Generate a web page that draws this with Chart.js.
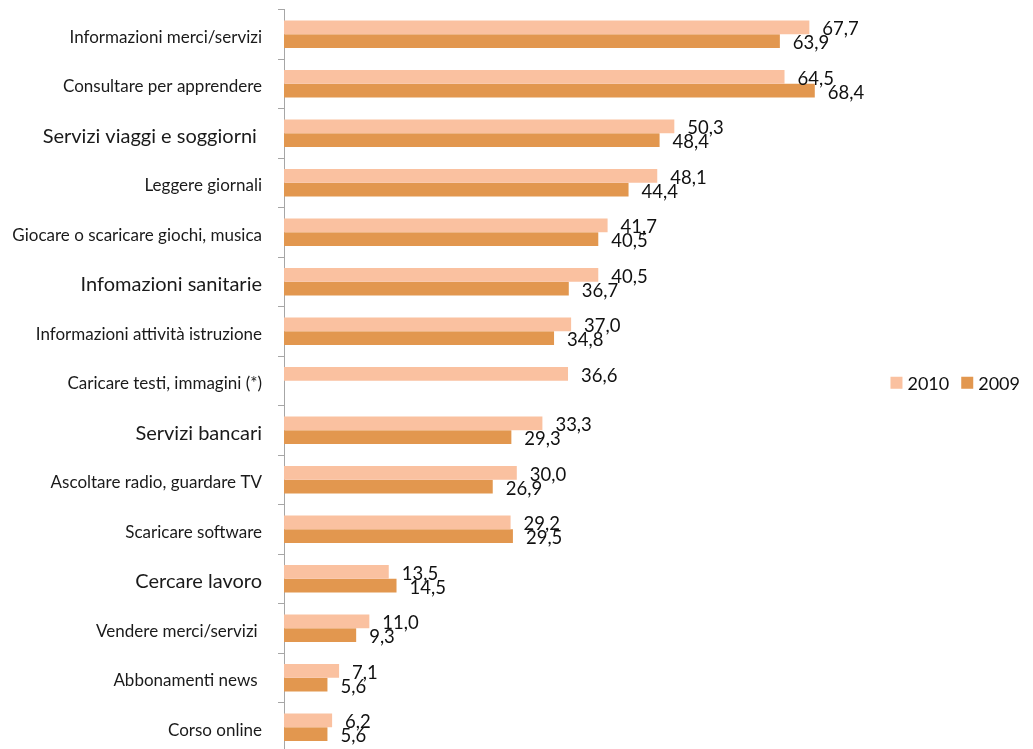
<!DOCTYPE html>
<html>
<head>
<meta charset="utf-8">
<script src="https://cdn.jsdelivr.net/npm/chart.js@4/dist/chart.umd.min.js"></script>
<style>
html,body{margin:0;padding:0;background:#fff;overflow:hidden;}
#wrap{width:1033px;height:760px;}
</style>
</head>
<body>
<div id="wrap"><canvas id="c" width="1033" height="760"></canvas></div>
<script>
const categories = [
  "Informazioni merci/servizi",
  "Consultare per apprendere",
  "Servizi viaggi e soggiorni ",
  "Leggere giornali",
  "Giocare o scaricare giochi, musica",
  "Infomazioni sanitarie",
  "Informazioni attività istruzione",
  "Caricare testi, immagini (*)",
  "Servizi bancari",
  "Ascoltare radio, guardare TV",
  "Scaricare software",
  "Cercare lavoro",
  "Vendere merci/servizi ",
  "Abbonamenti news ",
  "Corso online"
];
const values2010 = [67.7, 64.5, 50.3, 48.1, 41.7, 40.5, 37.0, 36.6, 33.3, 30.0, 29.2, 13.5, 11.0, 7.1, 6.2];
const values2009 = [63.9, 68.4, 48.4, 44.4, 40.5, 36.7, 34.8, null, 29.3, 26.9, 29.5, 14.5, 9.3, 5.6, 5.6];
const seriesNames = ["2010", "2009"];

// style config
const COLOR_2010 = "#FAC1A0";
const COLOR_2009 = "#E2974F";
const BIG_LABEL_INDEXES = [2, 5, 8, 11];
const FONT = "Lato, 'Open Sans', sans-serif";

const valueLabels = {
  id: "valueLabels",
  afterDatasetsDraw(chart) {
    const ctx = chart.ctx;
    ctx.save();
    ctx.font = "18.5px " + FONT;
    ctx.fillStyle = "#111";
    ctx.textAlign = "left";
    ctx.textBaseline = "middle";
    chart.data.datasets.forEach((ds, di) => {
      const meta = chart.getDatasetMeta(di);
      meta.data.forEach((el, i) => {
        const v = ds.data[i];
        if (v === null || v === undefined) return;
        ctx.fillText(v.toFixed(1).replace(".", ","), el.x + 13, el.y + 2);
      });
    });
    ctx.restore();
  }
};

const rowLegend = {
  id: "rowLegend",
  afterDraw(chart) {
    const ctx = chart.ctx;
    const ca = chart.chartArea;
    ctx.save();
    ctx.font = "18px " + FONT;
    ctx.textBaseline = "middle";
    ctx.textAlign = "left";
    const box = 12, gapBox = 5, gapItem = 12;
    const items = chart.data.datasets.map(d => ({label: d.label, color: d.backgroundColor}));
    let total = 0;
    items.forEach((it, k) => {
      it.w = ctx.measureText(it.label).width;
      total += box + gapBox + it.w + (k < items.length - 1 ? gapItem : 0);
    });
    let x = chart.width - 13 - total;
    const y = (ca.top + ca.bottom) / 2 + 2;
    items.forEach(it => {
      ctx.fillStyle = it.color;
      ctx.fillRect(x, y - box / 2, box, box);
      x += box + gapBox;
      ctx.fillStyle = "#111";
      ctx.fillText(it.label, x, y + 1);
      x += it.w + gapItem;
    });
    ctx.restore();
  }
};

new Chart(document.getElementById("c"), {
  type: "bar",
  data: {
    labels: categories,
    datasets: [
      { label: seriesNames[0], data: values2010, backgroundColor: COLOR_2010, borderWidth: 0,
        categoryPercentage: 0.553, barPercentage: 1 },
      { label: seriesNames[1], data: values2009, backgroundColor: COLOR_2009, borderWidth: 0,
        categoryPercentage: 0.553, barPercentage: 1 }
    ]
  },
  options: {
    indexAxis: "y",
    responsive: false,
    animation: false,
    devicePixelRatio: 1,
    layout: { padding: { left: 0, top: 9.5, bottom: 8, right: 167 } },
    plugins: {
      legend: { display: false },
      tooltip: { enabled: false }
    },
    scales: {
      x: {
        display: false,
        min: 0,
        max: 75
      },
      y: {
        afterFit(scale) {
          scale.width = 284;
          scale.paddingTop = 0;
          scale.paddingBottom = 0;
        },
        border: { display: true, color: "#A6A6A6", width: 1 },
        grid: {
          display: true,
          offset: true,
          drawOnChartArea: false,
          drawTicks: true,
          tickLength: 6,
          color: "#A6A6A6"
        },
        ticks: {
          padding: 16,
          labelOffset: 3,
          color: "#1a1a1a",
          autoSkip: false,
          font: (c) => ({
            family: FONT,
            size: BIG_LABEL_INDEXES.includes(c.index) ? 20 : 17
          })
        }
      }
    }
  },
  plugins: [valueLabels, rowLegend]
});
</script>
</body>
</html>
